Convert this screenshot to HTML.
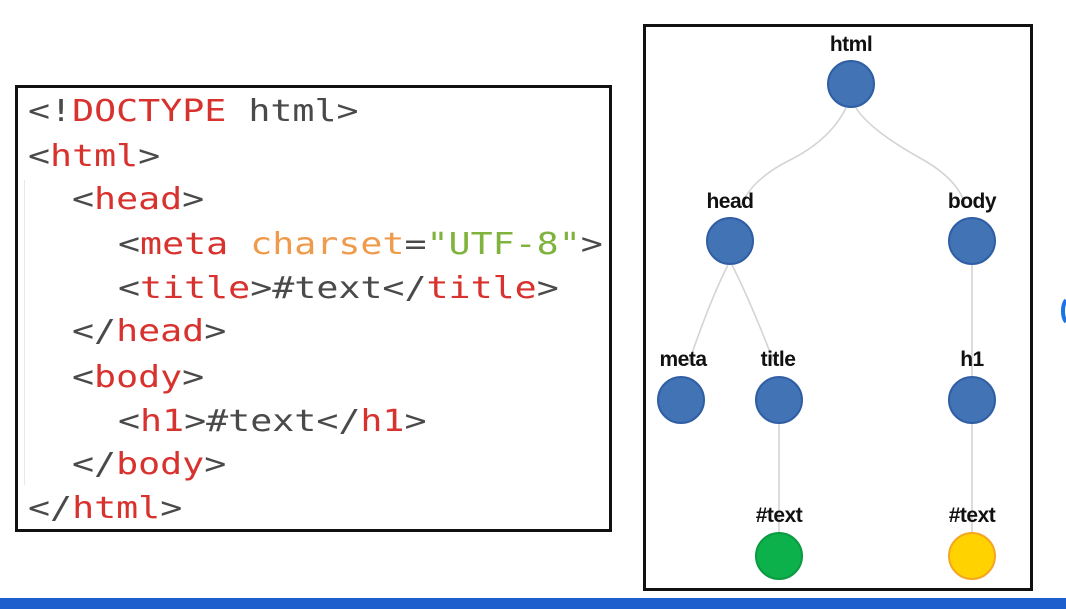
<!DOCTYPE html>
<html><head><style>
body{margin:0;width:1066px;height:609px;background:#fff;position:relative;overflow:hidden}
.code{position:absolute;left:15px;top:85px;width:591px;height:441px;border:3px solid #111;}
.ln{position:absolute;font-family:"DejaVu Sans Mono","Liberation Mono",monospace;font-size:30px;line-height:30px;color:#4a4a4a;white-space:pre;transform:scaleX(1.22);transform-origin:0 0}
.r{color:#d8322f}.o{color:#f09a4c}.g{color:#7fb33d}
</style></head><body>
<div class="code"></div>
<div class="ln" style="left:28px;top:97px">&lt;!<span class="r">DOCTYPE</span> html&gt;</div>
<div class="ln" style="left:28px;top:142px">&lt;<span class="r">html</span>&gt;</div>
<div class="ln" style="left:72px;top:185px">&lt;<span class="r">head</span>&gt;</div>
<div class="ln" style="left:118px;top:230px">&lt;<span class="r">meta</span> <span class="o">charset</span>=<span class="g">"UTF-8"</span>&gt;</div>
<div class="ln" style="left:118px;top:274px">&lt;<span class="r">title</span>&gt;#text&lt;/<span class="r">title</span>&gt;</div>
<div class="ln" style="left:72px;top:317px">&lt;/<span class="r">head</span>&gt;</div>
<div class="ln" style="left:72px;top:363px">&lt;<span class="r">body</span>&gt;</div>
<div class="ln" style="left:118px;top:407px">&lt;<span class="r">h1</span>&gt;#text&lt;/<span class="r">h1</span>&gt;</div>
<div class="ln" style="left:72px;top:450px">&lt;/<span class="r">body</span>&gt;</div>
<div class="ln" style="left:28px;top:494px">&lt;/<span class="r">html</span>&gt;</div>
<div style="position:absolute;left:24px;top:180px;width:1px;height:305px;background:#e8e8e8"></div>
<svg width="1066" height="609" style="position:absolute;left:0;top:0">
<rect x="644.5" y="25.5" width="387" height="564" fill="none" stroke="#111" stroke-width="3"/>
<g fill="none" stroke="#d4d4d4" stroke-width="1.6">
<path d="M846 108 Q830 140 790 160 Q750 180 740 208"/>
<path d="M856 108 Q870 130 920 158 Q960 180 966 208"/>
<path d="M728 265 Q710 300 688 365"/>
<path d="M732 265 Q750 300 775 365"/>
<path d="M972 265 L972 376"/>
<path d="M779 424 L779 532"/>
<path d="M972 424 L972 532"/>
</g>
<g fill="#4273b5" stroke="#2f5ea5" stroke-width="2">
<circle cx="851" cy="84" r="23"/>
<circle cx="730" cy="241" r="23"/>
<circle cx="972" cy="241" r="23"/>
<circle cx="681" cy="400" r="23"/>
<circle cx="779" cy="400" r="23"/>
<circle cx="972" cy="400" r="23"/>
</g>
<circle cx="779" cy="556" r="23" fill="#0db14b" stroke="#0a9a40" stroke-width="2"/>
<circle cx="972" cy="556" r="23" fill="#ffd200" stroke="#f5a623" stroke-width="2"/>
<g font-family="Liberation Sans, sans-serif" font-size="21" fill="#111" text-anchor="middle" font-weight="bold" letter-spacing="-0.5">
<text x="851" y="51">html</text>
<text x="730" y="208">head</text>
<text x="972" y="208">body</text>
<text x="683" y="366">meta</text>
<text x="778" y="366">title</text>
<text x="972" y="366">h1</text>
<text x="779" y="522">#text</text>
<text x="972" y="522">#text</text>
</g>
<path d="M1066 300 A8 14 0 0 0 1066 322" fill="none" stroke="#1a73e8" stroke-width="4"/>
<rect x="0" y="598" width="1066" height="11" fill="#1c5fcd"/>
</svg>
</body></html>
